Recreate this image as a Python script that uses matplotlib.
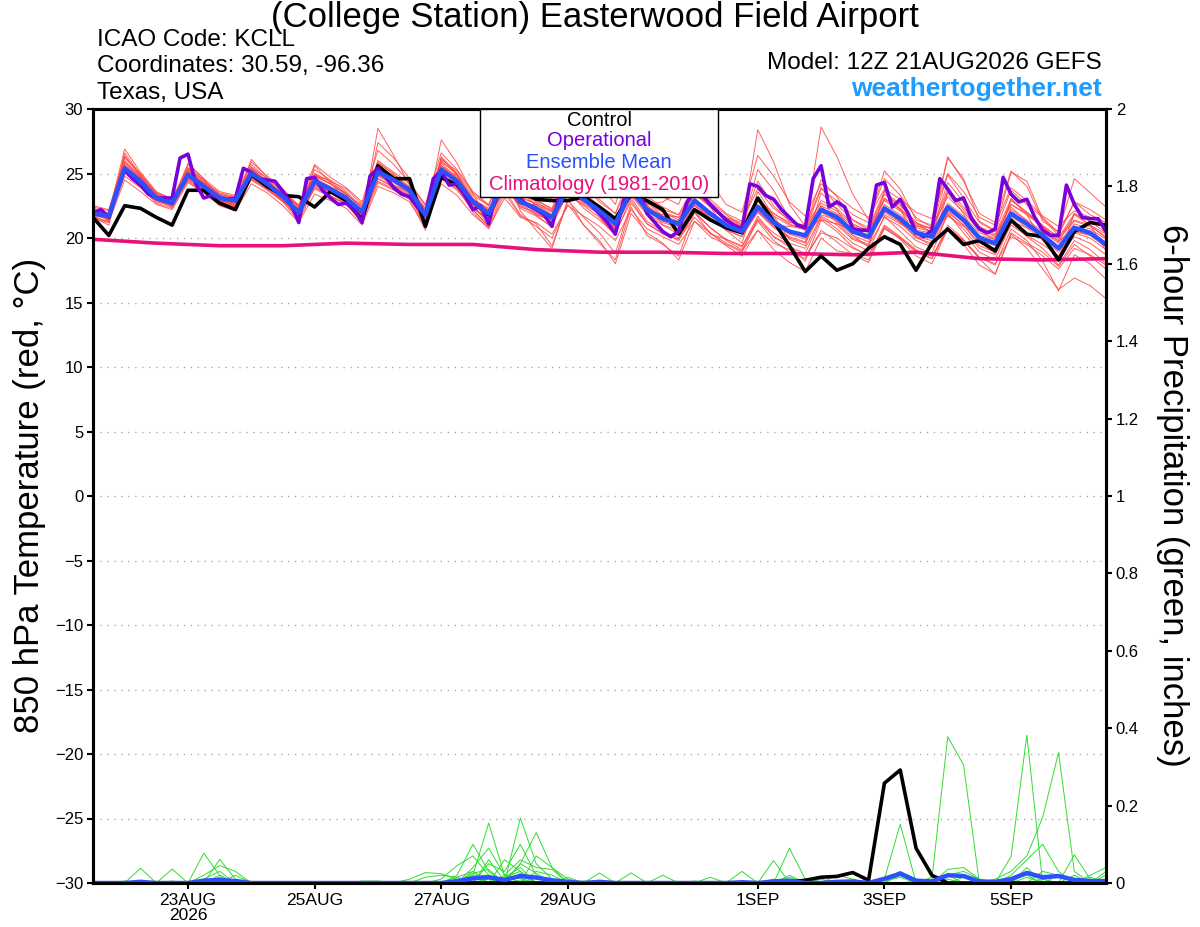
import numpy as np
import pandas as pd
import matplotlib
matplotlib.use('Agg')
import matplotlib.pyplot as plt
from matplotlib.patches import Rectangle

plt.rcParams['font.family'] = ['Liberation Sans', 'DejaVu Sans']

# GEFS 12Z 21AUG2026 run: 6-hourly steps, operational GFS 3-hourly
times = pd.date_range('2026-08-21 12:00', periods=65, freq='6h')
times_op = pd.date_range('2026-08-21 12:00', periods=129, freq='3h')
clim_days = pd.date_range('2026-08-21 12:00', periods=17, freq='D')

ens_mean = [21.9, 21.7, 25.4, 24.4, 23.1, 22.7, 24.9, 24.0, 23.1, 22.9, 25.0, 24.2, 23.2, 22.0, 24.4, 23.8,
            23.1, 22.0, 25.1, 24.5, 23.7, 21.8, 25.3, 24.4, 22.8, 21.9, 24.4, 22.8, 22.3, 21.6, 23.9, 23.0,
            22.1, 21.1, 23.7, 22.2, 21.5, 21.1, 22.9, 21.9, 21.0, 20.5, 22.4, 21.2, 20.5, 20.2, 22.2, 21.6,
            20.5, 20.1, 22.3, 21.5, 20.4, 20.1, 22.4, 21.4, 20.0, 19.6, 21.9, 21.1, 20.2, 19.2, 20.8, 20.4,
            19.5]

control = [21.6, 20.2, 22.5, 22.3, 21.6, 21.0, 23.7, 23.7, 22.7, 22.2, 24.9, 24.0, 23.3, 23.2, 22.4, 23.6,
           22.9, 21.4, 25.6, 24.6, 24.6, 20.9, 24.7, 24.1, 22.8, 21.8, 24.3, 23.6, 23.0, 22.9, 22.9, 23.2,
           22.4, 21.5, 23.4, 22.9, 22.2, 20.3, 22.2, 21.4, 20.8, 20.4, 23.1, 21.3, 19.4, 17.4, 18.6, 17.5,
           18.0, 19.2, 20.1, 19.5, 17.5, 19.6, 20.7, 19.5, 19.8, 19.0, 21.4, 20.3, 20.1, 18.3, 20.5, 21.2,
           21.0]

operational = [21.9, 22.2, 21.6, 23.6, 25.3, 24.6, 24.1, 23.4, 23.1, 23.1, 23.1, 26.2, 26.5, 24.2, 23.1, 23.3,
               23.1, 23.0, 23.1, 25.4, 25.1, 24.6, 24.5, 24.4, 23.6, 22.7, 21.2, 24.6, 24.7, 23.7, 23.1, 22.6,
               22.7, 22.2, 21.2, 24.8, 25.4, 24.7, 23.9, 23.4, 23.2, 22.4, 21.8, 24.6, 25.2, 24.1, 24.2, 23.3,
               22.2, 22.5, 21.1, 23.8, 25.0, 24.5, 23.0, 22.5, 22.2, 21.8, 20.9, 23.5, 25.0, 24.2, 23.0, 22.5,
               21.9, 21.2, 20.3, 22.8, 24.5, 23.7, 21.9, 21.2, 20.5, 20.1, 20.5, 22.7, 23.6, 23.3, 22.6, 22.0,
               21.4, 21.0, 20.7, 24.2, 24.0, 23.3, 23.0, 22.2, 21.6, 21.0, 20.8, 24.6, 25.6, 22.4, 22.8, 22.4,
               20.7, 20.6, 20.6, 24.1, 24.3, 22.4, 23.0, 21.9, 20.4, 20.1, 20.6, 24.6, 23.8, 22.9, 23.1, 21.5,
               20.7, 20.4, 20.7, 24.7, 23.4, 22.8, 23.0, 21.6, 20.6, 20.2, 20.2, 24.1, 22.6, 21.6, 21.5, 21.5,
               20.5]

climatology = [19.9, 19.6, 19.4, 19.4, 19.6, 19.5, 19.5, 19.1, 18.9, 18.9, 18.8, 18.8, 18.7, 18.9, 18.4,
               18.3, 18.4]

members = [
    [22.3, 21.9, 26.9, 25.1, 23.6, 23.0, 25.7, 24.6, 23.6, 23.3, 25.9, 24.8, 23.8, 22.5, 25.7, 24.7,
     23.9, 22.8, 26.8, 25.7, 24.3, 22.6, 26.6, 25.3, 23.6, 22.6, 25.4, 23.8, 23.0, 22.2, 24.9, 23.9,
     23.0, 21.9, 25.0, 23.2, 22.4, 21.8, 24.1, 23.0, 21.9, 21.3, 23.8, 22.3, 21.4, 20.9, 23.9, 22.6,
     21.4, 20.8, 23.6, 22.6, 21.2, 20.7, 23.8, 22.4, 20.9, 20.3, 23.0, 22.0, 21.0, 20.0, 21.9, 21.3, 20.4],
    [21.5, 21.2, 24.5, 23.6, 22.6, 22.2, 24.3, 23.5, 22.5, 22.1, 24.2, 23.5, 22.5, 21.2, 23.4, 22.9,
     22.3, 21.0, 24.0, 23.5, 22.8, 20.9, 24.2, 23.3, 21.8, 20.8, 23.1, 21.6, 21.2, 20.3, 22.5, 21.7,
     20.9, 19.8, 22.2, 20.7, 20.1, 19.5, 21.3, 20.4, 19.6, 19.0, 20.6, 19.6, 19.1, 18.6, 20.4, 20.0,
     19.2, 18.7, 20.7, 20.0, 19.0, 18.6, 20.6, 19.8, 18.5, 18.0, 20.1, 19.5, 18.6, 17.6, 19.2, 18.7, 17.9],
    [22.1, 21.3, 26.6, 24.9, 23.0, 22.4, 25.8, 24.6, 22.9, 22.5, 26.1, 24.7, 23.0, 21.4, 25.6, 24.3,
     22.9, 21.4, 28.5, 26.4, 24.1, 21.2, 26.3, 25.0, 22.6, 21.0, 25.6, 23.3, 21.8, 20.8, 25.0, 23.5,
     21.6, 20.2, 24.6, 22.6, 21.0, 20.3, 24.0, 22.4, 20.6, 19.6, 23.6, 21.7, 19.9, 19.4, 23.5, 22.2,
     20.2, 19.3, 23.7, 22.2, 20.1, 19.4, 23.5, 21.9, 19.7, 18.8, 23.1, 21.8, 19.8, 18.4, 21.9, 21.0, 19.0],
    [21.8, 21.6, 25.2, 24.2, 23.3, 22.9, 25.1, 24.3, 23.4, 23.1, 24.6, 23.8, 23.0, 22.3, 24.8, 24.2,
     23.4, 22.4, 25.6, 24.8, 23.9, 22.3, 25.9, 25.0, 23.3, 22.5, 25.8, 23.9, 22.9, 22.3, 25.6, 24.1,
     22.8, 21.9, 24.3, 22.8, 22.2, 21.8, 23.5, 22.5, 21.6, 21.2, 23.0, 21.9, 21.2, 21.0, 22.7, 22.1,
     21.0, 20.6, 22.9, 22.1, 20.9, 20.8, 23.2, 22.0, 20.6, 20.2, 22.6, 21.8, 20.9, 20.1, 21.4, 21.0, 20.3],
    [22.0, 21.8, 25.9, 24.7, 23.2, 22.5, 24.6, 23.7, 22.8, 22.6, 25.3, 24.4, 23.5, 21.5, 24.0, 23.2,
     22.6, 21.3, 24.6, 24.0, 23.2, 20.9, 25.8, 24.6, 22.2, 20.9, 24.9, 22.1, 20.6, 19.2, 23.0, 21.0,
     19.6, 18.3, 22.4, 20.2, 19.5, 18.6, 22.0, 20.3, 19.9, 19.3, 21.7, 20.1, 19.3, 18.8, 21.6, 20.7,
     19.6, 19.0, 21.7, 20.5, 19.3, 18.8, 21.9, 20.4, 18.9, 18.3, 21.2, 20.1, 19.2, 17.9, 19.8, 19.1, 18.0],
    [21.7, 21.5, 25.0, 24.1, 22.9, 22.8, 25.3, 24.5, 23.3, 22.8, 24.7, 23.9, 23.1, 22.6, 24.9, 24.4,
     23.4, 22.5, 24.8, 24.1, 23.5, 22.0, 24.9, 24.2, 23.0, 22.2, 23.8, 22.6, 22.6, 22.0, 23.5, 22.8,
     22.3, 21.5, 23.4, 22.1, 21.8, 21.6, 22.5, 21.7, 21.3, 20.9, 22.0, 21.0, 20.9, 20.7, 21.4, 21.1,
     20.6, 20.5, 21.8, 21.1, 20.6, 20.4, 21.7, 20.9, 20.2, 19.9, 21.3, 20.8, 20.4, 19.8, 20.5, 20.2, 19.6],
    [22.2, 21.9, 25.7, 24.6, 23.4, 22.6, 24.8, 23.8, 23.0, 22.7, 25.2, 24.2, 23.1, 21.8, 24.1, 23.5,
     22.9, 21.6, 27.4, 26.2, 24.6, 21.4, 27.6, 25.8, 23.4, 21.5, 25.7, 23.6, 22.5, 21.1, 24.6, 23.6,
     22.0, 20.7, 24.5, 22.8, 21.7, 21.3, 24.2, 22.8, 21.8, 21.0, 24.4, 22.5, 21.3, 20.9, 28.6, 26.3,
     23.4, 21.4, 24.6, 23.3, 21.6, 20.8, 24.9, 23.1, 21.2, 20.5, 23.7, 22.6, 21.6, 20.4, 22.8, 21.8, 21.2],
    [21.6, 21.0, 25.6, 24.5, 23.0, 22.8, 24.9, 24.0, 22.9, 22.6, 25.1, 24.0, 22.9, 21.6, 24.3, 23.6,
     22.8, 21.7, 25.2, 24.4, 23.6, 21.5, 25.4, 24.2, 22.4, 21.4, 24.2, 22.3, 21.7, 20.9, 23.6, 22.3,
     21.4, 20.3, 23.1, 21.3, 20.5, 20.0, 22.0, 20.8, 19.8, 19.1, 21.3, 19.8, 18.9, 18.4, 20.6, 19.7,
     18.7, 18.1, 20.8, 19.9, 18.6, 18.0, 20.7, 19.5, 17.9, 17.2, 20.3, 19.2, 17.6, 16.0, 16.9, 16.3, 15.3],
    [22.0, 21.5, 25.1, 24.0, 22.7, 22.3, 24.5, 23.6, 22.7, 22.4, 24.8, 23.9, 22.8, 21.3, 23.9, 23.3,
     22.6, 21.2, 24.3, 23.7, 23.0, 20.6, 24.9, 23.9, 22.0, 20.7, 23.5, 21.7, 20.9, 20.0, 22.6, 21.0,
     19.8, 18.0, 21.9, 20.4, 19.6, 18.3, 21.3, 20.1, 19.5, 18.9, 21.5, 20.4, 19.6, 19.2, 21.7, 21.0,
     19.9, 19.4, 21.6, 20.9, 19.8, 19.3, 21.8, 20.7, 19.2, 18.7, 21.0, 20.2, 19.5, 18.6, 20.1, 19.6, 18.7],
    [22.1, 21.9, 26.0, 24.8, 23.4, 23.0, 25.2, 24.2, 23.2, 22.9, 25.5, 24.6, 23.6, 22.3, 25.0, 24.4,
     23.8, 22.6, 26.0, 25.1, 24.2, 22.5, 26.1, 25.2, 23.5, 22.5, 25.6, 24.0, 23.6, 23.0, 26.4, 25.9,
     24.2, 22.6, 26.2, 24.6, 23.2, 22.6, 25.8, 24.4, 22.6, 22.0, 26.4, 24.8, 22.8, 21.7, 24.2, 23.3,
     22.3, 21.6, 23.8, 23.0, 22.0, 21.5, 25.0, 23.6, 21.6, 21.0, 23.9, 22.9, 21.7, 20.9, 22.1, 21.6, 21.0],
    [22.5, 22.2, 26.3, 24.9, 23.5, 22.9, 25.4, 24.4, 23.5, 23.2, 25.7, 24.6, 23.7, 22.4, 25.3, 24.5,
     23.6, 22.3, 25.9, 24.9, 24.0, 22.1, 26.0, 24.9, 23.1, 22.1, 24.9, 23.4, 22.8, 22.1, 24.4, 23.5,
     22.5, 21.5, 24.2, 22.9, 22.0, 21.4, 23.4, 22.6, 21.5, 20.9, 23.0, 21.9, 21.1, 20.6, 22.9, 22.3,
     21.1, 20.5, 23.0, 22.3, 21.0, 20.5, 24.3, 22.8, 20.8, 20.1, 22.6, 21.9, 20.8, 19.9, 21.3, 20.9, 20.1],
    [21.9, 21.4, 24.8, 23.9, 22.8, 22.5, 24.4, 23.5, 22.6, 22.4, 24.5, 23.7, 22.8, 21.9, 23.8, 23.2,
     22.7, 21.8, 24.6, 23.9, 23.2, 21.3, 24.7, 23.8, 22.3, 21.4, 24.0, 22.5, 21.8, 21.4, 23.4, 22.6,
     21.9, 20.7, 23.3, 21.8, 21.0, 20.6, 22.5, 21.5, 20.6, 20.1, 22.1, 20.9, 20.1, 19.7, 22.5, 21.2,
     20.0, 19.5, 22.4, 21.2, 20.0, 19.6, 22.0, 21.0, 19.4, 18.9, 22.4, 21.3, 19.8, 18.6, 20.6, 20.2, 19.3],
    [22.2, 21.7, 25.6, 24.6, 23.3, 22.7, 25.5, 24.5, 23.3, 23.0, 25.3, 24.4, 23.4, 22.1, 24.8, 24.2,
     23.5, 22.2, 25.7, 24.7, 23.9, 21.9, 25.6, 24.8, 23.0, 22.0, 24.8, 23.2, 22.6, 21.8, 24.3, 23.4,
     22.5, 21.4, 24.0, 22.6, 22.8, 23.6, 22.7, 21.9, 21.2, 20.7, 25.3, 23.7, 21.5, 20.6, 23.8, 22.9,
     21.8, 21.2, 25.2, 23.8, 21.4, 21.0, 26.3, 24.4, 21.9, 21.2, 25.2, 24.0, 21.3, 20.5, 24.6, 23.5, 22.4],
    [21.6, 21.3, 25.3, 24.2, 22.9, 22.4, 24.6, 23.8, 22.8, 22.5, 24.9, 24.0, 22.9, 21.7, 24.3, 23.7,
     22.8, 21.6, 24.9, 24.3, 23.4, 21.2, 24.8, 24.0, 22.4, 21.3, 23.9, 22.4, 22.0, 21.2, 23.7, 22.7,
     21.8, 20.8, 23.5, 21.9, 21.2, 20.8, 22.6, 21.6, 20.7, 20.1, 22.0, 20.8, 20.0, 19.6, 22.0, 21.3,
     20.2, 19.7, 22.0, 21.2, 20.1, 19.8, 22.1, 21.0, 19.6, 19.2, 21.7, 20.8, 19.9, 18.9, 20.4, 20.0, 19.1],
    [21.8, 21.5, 25.8, 24.7, 23.1, 22.6, 24.7, 23.8, 22.9, 22.7, 25.0, 24.1, 23.0, 21.7, 24.1, 23.6,
     22.9, 21.8, 24.9, 24.1, 23.3, 21.0, 25.0, 24.0, 22.2, 20.9, 23.8, 21.8, 21.1, 19.4, 22.9, 21.6,
     20.4, 18.8, 22.7, 21.1, 20.4, 19.8, 22.0, 20.8, 19.9, 19.4, 21.4, 20.1, 19.5, 18.2, 21.4, 20.5,
     19.3, 18.6, 21.0, 20.1, 19.1, 18.4, 20.8, 19.8, 18.4, 17.2, 20.4, 19.6, 18.9, 17.8, 19.5, 18.6, 17.6],
    [22.4, 22.1, 26.2, 25.0, 23.5, 23.1, 25.1, 24.3, 23.4, 23.1, 25.4, 24.4, 23.5, 22.4, 24.9, 24.2,
     23.3, 22.1, 25.4, 24.7, 23.9, 22.2, 25.6, 24.7, 23.0, 22.3, 24.6, 23.1, 22.7, 22.1, 24.3, 23.4,
     22.4, 21.5, 24.1, 22.7, 22.0, 21.6, 23.4, 22.4, 21.6, 21.0, 22.9, 21.7, 21.0, 20.7, 22.5, 21.9,
     20.9, 20.4, 22.6, 21.8, 20.8, 20.5, 22.7, 21.7, 20.4, 20.0, 22.2, 21.4, 20.5, 19.6, 21.1, 20.7, 19.9],
    [21.9, 21.6, 25.5, 24.5, 23.2, 22.8, 25.0, 24.1, 23.1, 22.8, 25.2, 24.3, 23.3, 22.0, 24.6, 24.0,
     23.2, 22.0, 25.3, 24.6, 23.8, 21.7, 25.5, 24.6, 22.9, 21.7, 24.6, 23.0, 22.4, 21.6, 24.1, 23.2,
     22.2, 21.1, 23.9, 22.4, 21.6, 21.1, 23.1, 22.0, 21.0, 20.4, 22.6, 21.4, 20.6, 20.0, 22.3, 21.8,
     20.7, 20.2, 23.1, 22.2, 21.1, 20.7, 26.2, 24.6, 21.3, 20.6, 25.1, 24.4, 21.5, 20.2, 22.8, 22.2, 21.4],
    [22.3, 21.8, 25.1, 24.1, 22.9, 22.6, 24.8, 23.9, 22.9, 22.7, 24.6, 23.8, 22.9, 21.9, 24.2, 23.5,
     22.7, 21.7, 24.4, 23.8, 23.1, 21.5, 24.6, 23.7, 22.3, 21.5, 23.9, 22.6, 21.9, 21.2, 23.4, 22.5,
     21.6, 20.4, 22.9, 21.1, 20.3, 19.9, 21.6, 20.4, 19.4, 18.6, 20.6, 19.1, 18.1, 17.4, 20.0, 19.0,
     18.8, 18.3, 20.9, 20.0, 18.9, 18.4, 21.0, 19.9, 18.5, 17.9, 20.7, 19.8, 18.2, 15.9, 18.7, 18.0, 16.8],
    [22.0, 21.8, 25.4, 24.4, 23.1, 22.7, 25.2, 24.3, 23.3, 22.9, 25.1, 24.3, 23.2, 22.1, 24.5, 23.9,
     23.1, 21.9, 25.0, 24.4, 23.6, 21.6, 25.2, 24.3, 22.6, 21.7, 24.3, 22.7, 22.2, 21.5, 23.8, 22.9,
     22.0, 20.9, 23.6, 22.1, 21.3, 20.9, 22.8, 21.8, 20.8, 20.3, 22.3, 21.1, 20.3, 19.9, 21.8, 21.4,
     20.4, 19.9, 22.1, 21.3, 20.3, 20.0, 22.3, 21.2, 19.8, 19.4, 21.8, 21.0, 20.0, 19.1, 20.7, 20.3, 19.4],
    [21.7, 21.2, 26.4, 24.8, 23.4, 22.6, 25.4, 24.2, 22.8, 22.4, 25.5, 24.3, 23.2, 21.6, 24.7, 23.9,
     22.9, 21.4, 25.8, 25.0, 23.7, 21.3, 26.2, 24.9, 22.9, 21.2, 25.3, 23.0, 22.4, 21.3, 24.7, 23.6,
     22.3, 20.9, 24.4, 22.5, 21.7, 21.2, 23.8, 22.4, 21.3, 20.8, 28.4, 25.9, 22.6, 20.9, 24.5, 23.2,
     21.4, 20.6, 23.4, 22.5, 21.2, 20.4, 23.6, 22.2, 20.6, 19.8, 22.9, 22.0, 20.9, 19.7, 21.8, 21.0, 20.0],
]

# 6-hour precipitation (inches), non-zero steps only: {step index: amount}
precip_members = [
    {3: 0.038, 24: 0.02, 25: 0.155, 26: 0.02, 54: 0.01},
    {5: 0.036, 7: 0.01, 27: 0.168, 28: 0.05, 29: 0.01, 53: 0.01, 54: 0.378, 55: 0.305},
    {7: 0.077, 8: 0.02, 23: 0.02, 24: 0.10, 25: 0.03, 58: 0.068, 59: 0.382},
    {8: 0.061, 9: 0.01, 27: 0.05, 28: 0.13, 29: 0.04, 30: 0.01, 57: 0.01, 58: 0.03, 59: 0.07,
     60: 0.17, 61: 0.337, 62: 0.03},
    {7: 0.02, 8: 0.045, 9: 0.03, 22: 0.01, 23: 0.045, 24: 0.07, 25: 0.02, 50: 0.01, 51: 0.152},
    {2: 0.005, 8: 0.02, 20: 0.01, 21: 0.027, 22: 0.024, 23: 0.01, 26: 0.06, 27: 0.03, 43: 0.058},
    {3: 0.006, 8: 0.015, 24: 0.04, 25: 0.09, 26: 0.02, 27: 0.06, 28: 0.04, 29: 0.035, 44: 0.09,
     45: 0.01, 63: 0.02, 64: 0.04},
    {9: 0.02, 25: 0.05, 26: 0.03, 27: 0.1, 28: 0.02, 41: 0.03, 54: 0.035, 55: 0.04, 56: 0.01},
    {7: 0.01, 8: 0.03, 24: 0.03, 26: 0.015, 27: 0.04, 32: 0.026, 58: 0.02, 59: 0.06, 60: 0.10, 61: 0.03},
    {17: 0.005, 18: 0.005, 25: 0.06, 26: 0.005, 28: 0.07, 29: 0.04, 34: 0.026, 62: 0.073, 63: 0.01},
    {24: 0.025, 25: 0.035, 27: 0.02, 36: 0.02, 39: 0.015, 51: 0.02, 59: 0.04},
    {23: 0.015, 24: 0.03, 26: 0.005, 27: 0.05, 28: 0.025, 44: 0.015, 51: 0.03, 55: 0.015, 59: 0.03,
     60: 0.01},
    {8: 0.01, 25: 0.01, 27: 0.025, 30: 0.015, 43: 0.01, 47: 0.02, 48: 0.01, 60: 0.03, 61: 0.02},
    {24: 0.015, 28: 0.03, 29: 0.02, 50: 0.01, 51: 0.03, 52: 0.01, 62: 0.02, 64: 0.03},
    {3: 0.004, 4: 0.004, 26: 0.02, 27: 0.012, 44: 0.02, 58: 0.01, 59: 0.02, 63: 0.015},
    {25: 0.012, 28: 0.015, 52: 0.005, 54: 0.02, 55: 0.03, 56: 0.01},
    {7: 0.008, 24: 0.005, 27: 0.008, 45: 0.01, 61: 0.02, 62: 0.01},
    {21: 0.015, 22: 0.02, 23: 0.015, 31: 0.005, 38: 0.005, 53: 0.015, 54: 0.02},
    {8: 0.01, 26: 0.015, 27: 0.03, 46: 0.01, 59: 0.015, 64: 0.02},
    {5: 0.005, 24: 0.02, 25: 0.02, 50: 0.005, 51: 0.015, 60: 0.01},
]
precip_control = {44: 0.003, 45: 0.007, 46: 0.015, 47: 0.017, 48: 0.027, 49: 0.007, 50: 0.258,
                  51: 0.292, 52: 0.09, 53: 0.02}
precip_mean = {3: 0.003, 7: 0.006, 8: 0.008, 9: 0.005, 23: 0.005, 24: 0.012, 25: 0.015, 26: 0.008,
               27: 0.018, 28: 0.014, 29: 0.007, 30: 0.003, 32: 0.003, 41: 0.002, 43: 0.004, 44: 0.006,
               47: 0.003, 48: 0.004, 50: 0.011, 51: 0.024, 52: 0.006, 53: 0.004, 54: 0.02, 55: 0.018,
               56: 0.004, 57: 0.003, 58: 0.01, 59: 0.026, 60: 0.015, 61: 0.018, 62: 0.008, 63: 0.005,
               64: 0.005}

tick_dates = pd.to_datetime(['2026-08-23', '2026-08-25', '2026-08-27', '2026-08-29',
                             '2026-09-01', '2026-09-03', '2026-09-05'])
tick_labels = ['23AUG\n2026', '25AUG', '27AUG', '29AUG', '1SEP', '3SEP', '5SEP']


def full(d):
    s = np.zeros(len(times))
    for k, v in d.items():
        s[k] = v
    return s


W, H = 1200, 927
fig = plt.figure(figsize=(W / 100, H / 100), dpi=100)
ax = fig.add_axes([93 / W, 1 - 883 / H, (1106 - 93) / W, (883 - 109) / H])
ax2 = ax.twinx()

for v in range(-25, 30, 5):
    ax.axhline(v, color='#aaaaaa', lw=1, ls=(0, (1, 4)), zorder=0)

for m in members:
    ax.plot(times[:len(m)], m, color='#ff4545', lw=0.7, alpha=0.85)
ax.plot(clim_days, climatology, color='#e8107a', lw=2.6)
ax.plot(times, control, color='black', lw=2.6)
ax.plot(times_op, operational, color='#7a00dc', lw=2.6)
ax.plot(times, ens_mean, color='#2a50ff', lw=3.2)

for p in precip_members:
    ax2.plot(times, full(p), color='#30dd30', lw=0.7)
ax2.plot(times, full(precip_control), color='black', lw=2.6)
ax2.plot(times, full(precip_mean), color='#2a50ff', lw=3.2)

ax.set_xlim(times[0], times[-1])
ax.set_ylim(-30, 30)
ax2.set_ylim(0, 2)
ax.set_yticks(range(-30, 31, 5))
ax2.set_yticks(np.arange(0, 2.01, 0.2))
ax2.set_yticklabels(['%g' % round(v, 1) for v in np.arange(0, 2.01, 0.2)])
ax.set_xticks(tick_dates)
ax.set_xticklabels(tick_labels, linespacing=1.0)
ax.tick_params(axis='x', labelsize=12.5, length=4, width=1.5, pad=3)
ax.tick_params(axis='y', labelsize=12, length=4, width=1.5, pad=3)
ax2.tick_params(axis='y', labelsize=12, length=4, width=1.5, pad=3)
for a in (ax, ax2):
    for s in a.spines.values():
        s.set_linewidth(2.2)

# legend box
fig.patches.append(Rectangle((480 / W, 1 - 197 / H), 238 / W, 88 / H, transform=fig.transFigure,
                             facecolor='white', edgecolor='black', lw=1, zorder=10))
legend_items = [('Control', 'black', 121), ('Operational', '#7a00dc', 141),
                ('Ensemble Mean', '#2a50ff', 163), ('Climatology (1981-2010)', '#e8107a', 185)]
for txt, col, y in legend_items:
    fig.text(599 / W, 1 - y / H, txt, color=col, fontsize=14.5, ha='center', va='center', zorder=11)

fig.text(595 / W, 1 - 18 / H, '(College Station) Easterwood Field Airport', fontsize=25,
         ha='center', va='center')
fig.text(97 / W, 1 - 40 / H, 'ICAO Code: KCLL', fontsize=17.5, va='center')
fig.text(97 / W, 1 - 66 / H, 'Coordinates: 30.59, -96.36', fontsize=17.5, va='center')
fig.text(97 / W, 1 - 93 / H, 'Texas, USA', fontsize=17.5, va='center')
fig.text(1102 / W, 1 - 63 / H, 'Model: 12Z 21AUG2026 GEFS', fontsize=17.5, ha='right', va='center')
fig.text(1102 / W, 1 - 89 / H, 'weathertogether.net', fontsize=19, fontweight='bold',
         color='#1e9bff', ha='right', va='center')
fig.text(30 / W, 1 - 495 / H, '850 hPa Temperature (red, °C)', fontsize=25, rotation=90,
         ha='center', va='center')
fig.text(1172 / W, 1 - 495 / H, '6-hour Precipitation (green, inches)', fontsize=25, rotation=270,
         ha='center', va='center')

fig.savefig('out.png', dpi=100)
